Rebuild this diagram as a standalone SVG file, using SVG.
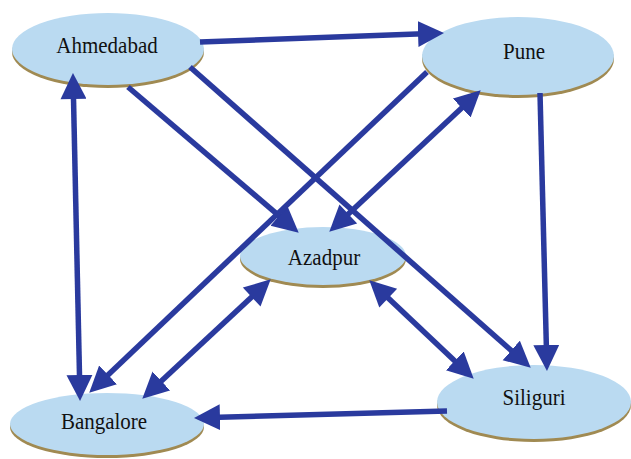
<svg xmlns="http://www.w3.org/2000/svg" width="631" height="459" viewBox="0 0 631 459">
<defs>
<style>
.sh{fill:#a08a52}
.el{fill:#badaf1}
.lb{font-family:"Liberation Serif","DejaVu Serif","Times New Roman",serif;font-size:21px;fill:#111;text-anchor:middle}
.c{stroke:#2a3a9e;stroke-width:5.5;fill:none}
.e{marker-end:url(#ah)}
.b{marker-start:url(#ahs);marker-end:url(#ah)}
</style>
<marker id="ah" markerUnits="userSpaceOnUse" markerWidth="28" markerHeight="28" refX="19" refY="13" orient="auto">
<path d="M0,0 L26,13 L0,26 z" fill="#2a3a9e"/>
</marker>
<marker id="ahs" markerUnits="userSpaceOnUse" markerWidth="28" markerHeight="28" refX="7" refY="13" orient="auto">
<path d="M26,0 L0,13 L26,26 z" fill="#2a3a9e"/>
</marker>
</defs>
<rect width="631" height="459" fill="#fff"/>
<g id="ahmedabad">
<ellipse class="sh" cx="108" cy="52" rx="96" ry="36"/>
<ellipse class="el" cx="108" cy="49" rx="96" ry="36"/>
<text class="lb" transform="translate(107,53) scale(1,1.12)">Ahmedabad</text>
</g>
<g id="pune">
<ellipse class="sh" cx="518" cy="59" rx="96" ry="39"/>
<ellipse class="el" cx="518" cy="56" rx="96" ry="39"/>
<text class="lb" transform="translate(524,59) scale(1,1.12)">Pune</text>
</g>
<g id="azadpur">
<ellipse class="sh" cx="323" cy="259" rx="83" ry="29"/>
<ellipse class="el" cx="323" cy="256" rx="83" ry="29"/>
<text class="lb" transform="translate(324,265) scale(1,1.12)">Azadpur</text>
</g>
<g id="bangalore">
<ellipse class="sh" cx="107" cy="427" rx="97" ry="31"/>
<ellipse class="el" cx="107" cy="424" rx="97" ry="31"/>
<text class="lb" transform="translate(104,429) scale(1,1.12)">Bangalore</text>
</g>
<g id="siliguri">
<ellipse class="sh" cx="534" cy="405" rx="97" ry="37"/>
<ellipse class="el" cx="534" cy="402" rx="97" ry="37"/>
<text class="lb" transform="translate(534,405) scale(1,1.12)">Siliguri</text>
</g>
<g id="connectors">
<line class="c e" x1="200" y1="42" x2="437" y2="33.2"/>
<line class="c b" x1="73.1" y1="80" x2="79.9" y2="394"/>
<line class="c e" x1="128" y1="87" x2="293.4" y2="228.1"/>
<line class="c e" x1="190" y1="67" x2="525.5" y2="363"/>
<line class="c e" x1="427" y1="72" x2="94.3" y2="387.9"/>
<line class="c b" x1="334.4" y1="226.9" x2="475.6" y2="95.1"/>
<line class="c e" x1="540" y1="93" x2="546.8" y2="364"/>
<line class="c b" x1="265.6" y1="284.1" x2="147.4" y2="393.9"/>
<line class="c b" x1="374.4" y1="285.1" x2="468.6" y2="373.9"/>
<line class="c e" x1="447" y1="411" x2="201" y2="417.8"/>
</g>
</svg>
